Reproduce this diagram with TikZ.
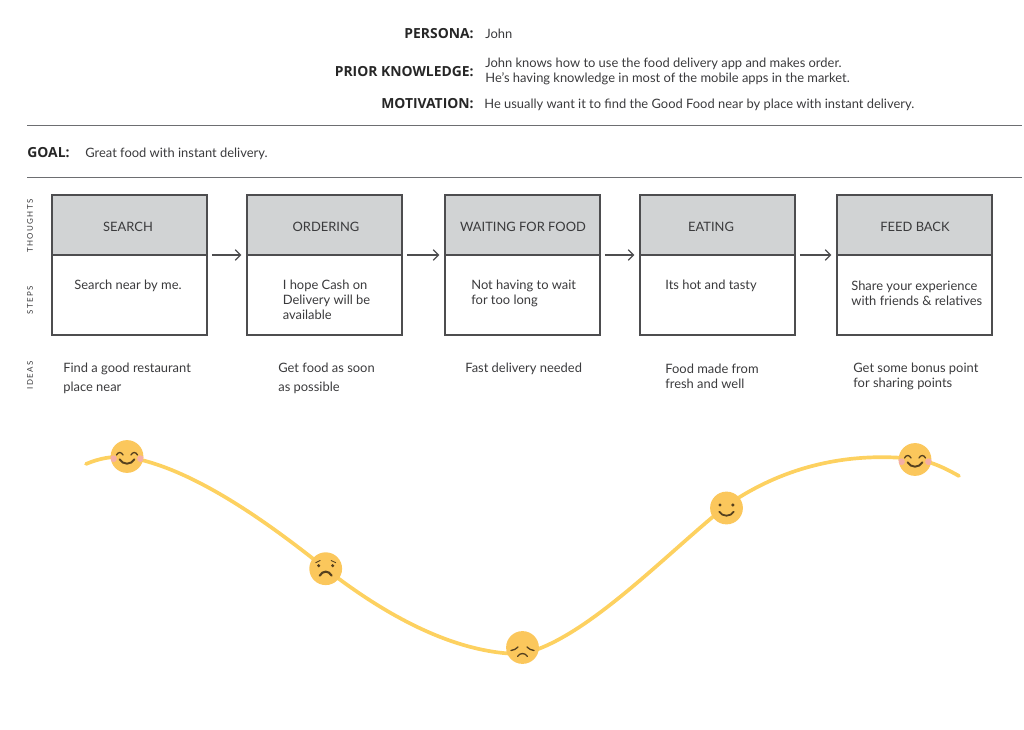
\documentclass[tikz,border=0pt]{standalone}
\usepackage{fontspec}
\setmainfont{Lato}
\newfontfamily\headfont{Open Sans}
\usepackage{xcolor}
\definecolor{ruleline}{HTML}{6D6E71}
\definecolor{boxline}{HTML}{4D4D4F}
\definecolor{headfill}{HTML}{D1D3D4}
\definecolor{bodytext}{HTML}{3A3A3C}
\definecolor{curveyellow}{HTML}{FDD160}
\definecolor{faceyellow}{HTML}{FBC75C}
\definecolor{facebrown}{HTML}{55401F}
\definecolor{cheekpink}{HTML}{F5AFA5}
\usetikzlibrary{arrows.meta, positioning}
\tikzset{
  fieldlabel/.style={font=\headfont\bfseries\fontsize{7.9}{9}\selectfont, text=black!85, inner sep=0pt},
  bodyline/.style={font=\fontsize{7.35}{8.6}\selectfont, text=bodytext, inner sep=0pt, anchor=west, align=left},
  idealine/.style={font=\fontsize{7.35}{10.8}\selectfont, text=bodytext, inner sep=0pt, anchor=west, align=left},
  sidelabel/.style={font=\fontsize{4.5}{5}\selectfont\addfontfeature{LetterSpace=18}, text=bodytext, inner sep=0pt, rotate=90},
  steptitle/.style={font=\fontsize{7.35}{8.6}\selectfont, text=bodytext, inner sep=0pt},
  stephead/.style={draw=boxline, line width=0.8pt, fill=headfill, minimum width=155*0.2mm, minimum height=60*0.2mm, inner sep=0pt, outer sep=0pt},
  stepbody/.style={draw=boxline, line width=0.8pt, fill=white, minimum width=155*0.2mm, minimum height=80*0.2mm, inner sep=0pt, outer sep=0pt},
  steparrow/.style={-{Straight Barb[length=3pt,width=6pt]}, draw=boxline, line width=0.7pt, shorten <=2.8pt, shorten >=3.2pt},
  facedisc/.style={fill=faceyellow},
  facemark/.style={draw=facebrown, line width=0.75pt, line cap=round},
  happyface/.pic={
    \fill[facedisc] (0,0) circle (16.4);
    \begin{scope}
      \clip (0,0) circle (16.4);
      \fill[cheekpink] (-13.5,2.2) circle (3.4);
      \fill[cheekpink] (13.5,2.2) circle (3.4);
    \end{scope}
    \draw[facemark] (-10.5,-1.5) .. controls (-9,-4.8) and (-5.5,-4.8) .. (-4,-1.5);
    \draw[facemark] (4,-1.5) .. controls (5.5,-4.8) and (9,-4.8) .. (10.5,-1.5);
    \draw[facemark, line width=1.1pt] (-7.5,2.8) .. controls (-4,8.6) and (4,8.6) .. (7.5,2.8);
  },
  worriedface/.pic={
    \fill[facedisc] (0,0) circle (16.4);
    \fill[facebrown] (-7,-3) circle (1.7);
    \fill[facebrown] (7,-3) circle (1.7);
    \draw[facemark, line width=0.5pt] (-10,-6) -- (-5.5,-8.2);
    \draw[facemark, line width=0.5pt] (10,-6) -- (5.5,-8.2);
    \draw[facemark, line width=1.2pt] (-6,7) .. controls (-3,1.6) and (3,1.6) .. (6,7);
  },
  sadface/.pic={
    \fill[facedisc] (0,0) circle (16.4);
    \draw[facemark] (-11.5,3) .. controls (-9,2.6) and (-6,1.6) .. (-4.5,-0.5);
    \draw[facemark] (11.5,3) .. controls (9,2.6) and (6,1.6) .. (4.5,-0.5);
    \draw[facemark] (-5,9) .. controls (-2.5,5) and (2.5,5) .. (5,9);
  },
  smileface/.pic={
    \fill[facedisc] (0,0) circle (16.4);
    \fill[facebrown] (-6.5,-3) circle (1.7);
    \fill[facebrown] (6.3,-3) circle (1.7);
    \draw[facemark, line width=1pt] (-7.3,3.7) .. controls (-4,9) and (4,9) .. (7.3,3.7);
  }
}
\begin{document}
\begin{tikzpicture}[x=0.2mm, y=-0.2mm]
\useasboundingbox (0,0) rectangle (1024,730);
% persona block
\node[fieldlabel, anchor=east] (personalabel) at (474,33.5) {PERSONA:};
\node[bodyline] (personatext) at (485,33.5) {John};
\node[fieldlabel, anchor=east] (priorlabel) at (474,71.5) {PRIOR KNOWLEDGE:};
\node[bodyline] (priortext) at (485,71) {John knows how to use the food delivery app and makes order.\\He's having knowledge in most of the mobile apps in the market.};
\node[fieldlabel, anchor=east] (motivelabel) at (474,103.5) {MOTIVATION:};
\node[bodyline] (motivetext) at (484,105) {He usually want it to find the Good Food near by place with instant delivery.};
% goal between rules
\draw[ruleline, line width=0.5pt] (27,125) -- (1022,125);
\node[fieldlabel, anchor=west] (goallabel) at (27,152.5) {GOAL:};
\node[bodyline] (goaltext) at (85,154) {Great food with instant delivery.};
\draw[ruleline, line width=0.5pt] (27,177) -- (1022,177);
% row labels
\node[sidelabel] (thoughtslabel) at (30,226) {THOUGHTS};
\node[sidelabel] (stepslabel) at (30,300) {STEPS};
\node[sidelabel] (ideaslabel) at (30,375.5) {IDEAS};
% boxes
\node[stephead] (search) at (129.5,225) {};
\node[stepbody] (searchbody) at (129.5,295) {};
\node[stephead] (ordering) at (324.5,225) {};
\node[stepbody] (orderingbody) at (324.5,295) {};
\node[stephead] (waiting) at (522.5,225) {};
\node[stepbody] (waitingbody) at (522.5,295) {};
\node[stephead] (eating) at (717.5,225) {};
\node[stepbody] (eatingbody) at (717.5,295) {};
\node[stephead] (feedback) at (914.5,225) {};
\node[stepbody] (feedbackbody) at (914.5,295) {};
% titles, not all centred in their box
\node[steptitle] (searchtitle) at (128,226.5) {SEARCH};
\node[steptitle] (orderingtitle) at (326,226.5) {ORDERING};
\node[steptitle] (waitingtitle) at (523,226.5) {WAITING FOR FOOD};
\node[steptitle] (eatingtitle) at (711,226.5) {EATING};
\node[steptitle] (feedbacktitle) at (915,226.5) {FEED BACK};
% arrows along the header edge
\draw[steparrow] (search.south east) -- (ordering.south west);
\draw[steparrow] (ordering.south east) -- (waiting.south west);
\draw[steparrow] (waiting.south east) -- (eating.south west);
\draw[steparrow] (eating.south east) -- (feedback.south west);
% box texts
\node[bodyline] (searchtext) at (74,286) {Search near by me.};
\node[bodyline] (orderingtext) at (282.5,299.5) {I hope Cash on\\Delivery will be\\available};
\node[bodyline] (waitingtext) at (471,293) {Not having to wait\\for too long};
\node[bodyline] (eatingtext) at (665,286) {Its hot and tasty};
\node[bodyline] (feedbacktext) at (851,293) {Share your experience\\with friends \& relatives};
% ideas
\node[idealine] (searchidea) at (63,378.5) {Find a good restaurant\\place near};
\node[idealine] (orderingidea) at (278,378.5) {Get food as soon\\as possible};
\node[bodyline] (waitingidea) at (465,369) {Fast delivery needed};
\node[bodyline] (eatingidea) at (665,376) {Food made from\\fresh and well};
\node[bodyline] (feedbackidea) at (853,376) {Get some bonus point\\for sharing points};
% mood curve
\draw[curveyellow, line width=2.1pt, line cap=round] (86,464)
  .. controls (100,458) and (113,456) .. (127,457)
  .. controls (190,467) and (265,520) .. (326,569)
  .. controls (385,615) and (455,654) .. (522,654)
  .. controls (585,640) and (665,555) .. (726,506)
  .. controls (785,465) and (850,452) .. (915,459)
  .. controls (930,461) and (945,468) .. (959,476);
% faces on the curve
\pic (firstface) at (127,456.5) {happyface};
\pic (secondface) at (325.7,568.7) {worriedface};
\pic (thirdface) at (522.5,647.5) {sadface};
\pic (fourthface) at (726.5,508) {smileface};
\pic (fifthface) at (915,459.5) {happyface};
\end{tikzpicture}
\end{document}
